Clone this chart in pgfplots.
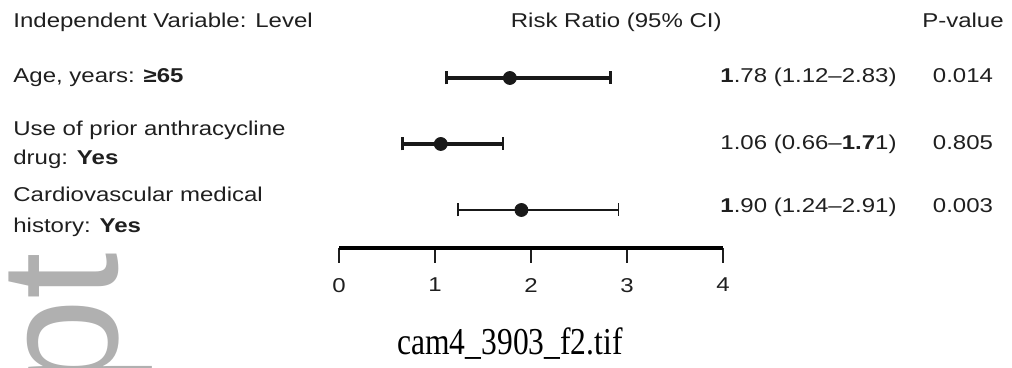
\documentclass[border=0pt]{standalone}
\usepackage{fontspec}
\setmainfont[FakeStretch=1.2]{Liberation Sans}
\newfontfamily\capfont[FakeStretch=0.83]{Liberation Serif}
\newfontfamily\wmfont{Liberation Sans}
\usepackage{pgfplots}
\pgfplotsset{compat=1.18}
\begin{document}
\begin{tikzpicture}
\begin{scope}[x=0.5pt,y=-0.5pt]
\path[use as bounding box] (0,0) rectangle (1012,368);
\node[rotate=90, anchor=base east, inner sep=0, text=black!31, font=\wmfont\fontsize{84}{84}\selectfont] at (117,252) {pt};
\tikzset{lab/.style={anchor=base west, inner sep=0, font=\fontsize{10}{12}\selectfont, text=black!88},
         labr/.style={lab, anchor=base east},
         labc/.style={lab, anchor=base}}
% headers
\node[lab] at (13,28) {Independent Variable: Level};
\node[labr] at (722,28) {Risk Ratio (95\% CI)};
\node[labc] at (963,28) {P-value};
% row labels
\node[lab] at (13,83) {Age, years: \textbf{≥65}};
\node[lab] at (13,136) {Use of prior anthracycline};
\node[lab] at (13,165) {drug: \textbf{Yes}};
\node[lab] at (13,202) {Cardiovascular medical};
\node[lab] at (13,233) {history: \textbf{Yes}};
% estimates
\node[lab] at (720,83) {\textbf{1}.78 (1.12–2.83)};
\node[lab] at (720,150) {1.06 (0.66–\textbf{1.7}1)};
\node[lab] at (720,213) {\textbf{1}.90 (1.24–2.91)};
% p-values
\node[labc] at (963,83) {0.014};
\node[labc] at (963,150) {0.805};
\node[labc] at (963,213) {0.003};
% caption
\node[anchor=base, inner sep=0, font=\capfont\fontsize{19}{22}\selectfont] at (510,355) {cam4\_3903\_f2.tif};
\end{scope}
\begin{axis}[
  at={(169.5pt,-124pt)}, anchor=south west,
  scale only axis, width=192pt, height=101.5pt,
  xmin=0, xmax=4, ymin=0.424, ymax=3.5,
  axis y line=none, axis x line*=bottom,
  x axis line style={line width=1.6pt, -},
  xtick={0,1,2,3,4}, ytick=\empty,
  tick align=outside, major tick length=7.5pt,
  every tick/.style={black!88, line width=0.7pt},
  /pgf/number format/assume math mode=true,
  xticklabel style={font=\fontsize{10}{12}\selectfont, text=black!88, yshift=-4pt},
  clip=false,
]
\addplot[black!90, only marks, mark=*, mark size=3.25pt,
  error bars/.cd, x dir=both, x explicit, error mark=|,
  error bar style={line width=1.6pt},
  error mark options={mark size=3.25pt, line width=1.2pt}]
  coordinates {(1.78,3) += (1.05,0) -= (0.66,0)
               (1.06,2) += (0.65,0) -= (0.40,0)};
\addplot[black!90, only marks, mark=*, mark size=3.25pt,
  error bars/.cd, x dir=both, x explicit, error mark=|,
  error bar style={line width=0.7pt},
  error mark options={mark size=3.25pt, line width=0.7pt}]
  coordinates {(1.90,1) += (1.01,0) -= (0.66,0)};
\end{axis}
\end{tikzpicture}
\end{document}
